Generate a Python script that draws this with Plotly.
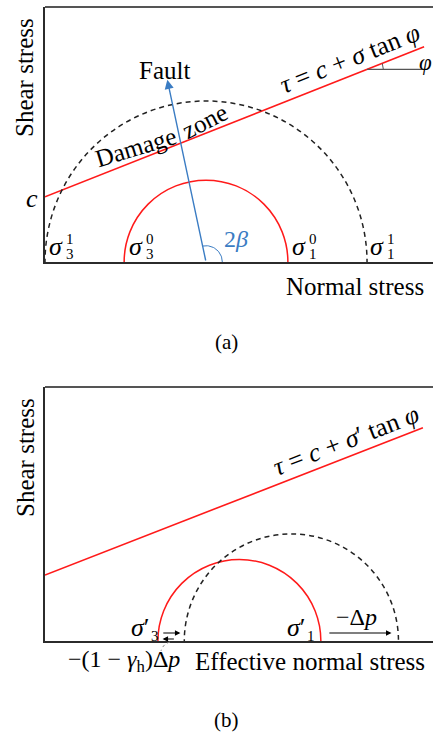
import numpy as np
import plotly.graph_objects as go

# ---------------- data (in stress units) ----------------
# panel (a)
cohesion_a = 1.68
phi_deg_a = 21.6
sigma_end_a = 9.77
circle0_a = [2.04, 6.26]      # sigma3^0, sigma1^0
circle1_a = [0.0, 8.30]       # sigma3^1, sigma1^1
two_beta_deg = 102.0
fault_length = 4.8
# panel (b)
cohesion_b = 1.70
phi_deg_b = 21.3
sigma_end_b = 9.74
circle_b = [2.91, 7.11]       # sigma3', sigma1'
delta_p = 2.0
gamma_h = 0.66

# ---------------- layout helpers ----------------
W, H = 433, 733
X0, PXU = 45, 38.8
Y0A, YTA = 262, 7
Y0B, YTB = 641, 387
SERIF = "Liberation Serif"
RED = "#ff1a1a"
BLUE = "#3a7cc3"
AX = "#2b2b2b"


def px(x):
    return x / W


def py(y):
    return 1 - y / H


fig = go.Figure()
shapes = []
ann = []


def envelope(c, phi, end, xa, ya):
    t = np.tan(np.radians(phi))
    fig.add_trace(go.Scatter(x=[0, end], y=[c, c + end * t], mode="lines",
                             line=dict(color=RED, width=1.6), xaxis=xa, yaxis=ya,
                             hoverinfo="skip", showlegend=False))


def circle(s3, s1, xr, yr, color, dash):
    r = (s1 - s3) / 2
    shapes.append(dict(type="circle", xref=xr, yref=yr, x0=s3, x1=s1, y0=-r, y1=r,
                       line=dict(color=color, width=1.5, dash=dash), layer="above"))


def arc(cx, cy, r, a0, a1, xa, ya, color):
    th = np.radians(np.linspace(a0, a1, 30))
    fig.add_trace(go.Scatter(x=cx + r * np.cos(th), y=cy + r * np.sin(th), mode="lines",
                             line=dict(color=color, width=1), xaxis=xa, yaxis=ya,
                             hoverinfo="skip", showlegend=False))


def text(xp, yp, s, size=25, color="black", angle=0, font=SERIF):
    ann.append(dict(x=px(xp), y=py(yp), xref="paper", yref="paper", text=s,
                    showarrow=False, textangle=angle, xanchor="center", yanchor="middle",
                    font=dict(family=font, size=size, color=color)))


def sigma(xp, yp, sup, sub):
    text(xp, yp, "<i>σ</i>", size=26)
    text(xp + 14, yp - 8, sup, size=15)
    text(xp + 14, yp + 7, sub, size=15)


def arrow(x_tip, y_tip, x_tail, y_tail, xr, yr, color="black", width=1.1, size=1.0):
    ann.append(dict(x=x_tip, y=y_tip, ax=x_tail, ay=y_tail, xref=xr, yref=yr,
                    axref=xr, ayref=yr, text="", showarrow=True, arrowhead=2,
                    arrowsize=size, arrowwidth=width, arrowcolor=color))


# ---------------- panel (a) ----------------
envelope(cohesion_a, phi_deg_a, sigma_end_a, "x", "y")
circle(circle0_a[0], circle0_a[1], "x", "y", RED, "solid")
circle(circle1_a[0], circle1_a[1], "x", "y", "#222222", "5px,4px")
cx_a = (circle0_a[0] + circle0_a[1]) / 2
tb = np.radians(two_beta_deg)
arrow(cx_a + fault_length * np.cos(tb), fault_length * np.sin(tb), cx_a, 0, "x", "y",
      color=BLUE, width=1.4, size=1.3)
arc(cx_a, 0, 0.42, 0, two_beta_deg, "x", "y", BLUE)
# phi marker
tphi = np.tan(np.radians(phi_deg_a))
phi_x0 = 8.30
phi_y0 = cohesion_a + phi_x0 * tphi
fig.add_trace(go.Scatter(x=[phi_x0, sigma_end_a + 0.05], y=[phi_y0, phi_y0], mode="lines",
                         line=dict(color="#555555", width=1.2), xaxis="x", yaxis="y",
                         hoverinfo="skip", showlegend=False))
arc(phi_x0, phi_y0, 0.42, 0, phi_deg_a, "x", "y", "#555555")

# ---------------- panel (b) ----------------
envelope(cohesion_b, phi_deg_b, sigma_end_b, "x2", "y2")
circle(circle_b[0], circle_b[1], "x2", "y2", RED, "solid")
circle(circle_b[0] + (1 - gamma_h) * delta_p, circle_b[1] + delta_p, "x2", "y2",
       "#222222", "5px,4px")
ab = 8 / PXU
arrow(circle_b[1] + delta_p - 0.18, ab, circle_b[1] + 0.18, ab, "x2", "y2")
arrow(circle_b[0] + (1 - gamma_h) * delta_p - 0.1, ab, circle_b[0] + 0.1, ab, "x2", "y2")
arrow(circle_b[0] + 0.12, 0.05, circle_b[0] + 0.45, 0.05, "x2", "y2")
shapes.append(dict(type="path", xref="paper", yref="paper",
                   path=f"M {px(170)} {py(642)} Q {px(163)} {py(644)} {px(161)} {py(651)}",
                   line=dict(color="#888888", width=1, dash="dot")))

# top borders
for xd, yd in [("x domain", "y domain"), ("x2 domain", "y2 domain")]:
    shapes.append(dict(type="line", xref=xd, yref=yd, x0=0, x1=1, y0=1, y1=1,
                       line=dict(color="#555555", width=2)))

# ---------------- texts ----------------
text(25, 78, "Shear stress", angle=-90)
text(25, 458, "Shear stress", angle=-90)
text(355, 286, "Normal stress")
text(164, 70, "Fault")
text(135, 147, "Damage", angle=-17)
text(204, 121, "zone", angle=-27)
text(350, 59, "<i>τ</i> = <i>c</i> + <i>σ</i> tan <i>φ</i>", size=26, angle=-21.6)
text(425, 62, "<i>φ</i>", size=23)
text(32, 199, "<i>c</i>", size=26)
sigma(56, 247, "1", "3")
sigma(136, 247, "0", "3")
sigma(299, 247, "0", "1")
sigma(377, 247, "1", "1")
text(236, 239, "2<i>β</i>", size=24, color=BLUE)
text(226, 342, "(a)", size=21)

text(346, 440, "<i>τ</i> = <i>c</i> + <i>σ</i>′ tan <i>φ</i>", size=26, angle=-21)
text(140, 627, "<i>σ</i>′", size=26)
text(155, 636, "3", size=15)
text(296, 627, "<i>σ</i>′", size=26)
text(311, 636, "1", size=15)
text(356, 617, "−Δ<i>p</i>", size=24)
text(124, 661, "−(1 − <i>γ</i><sub>h</sub>)Δ<i>p</i>", size=24)
text(310, 661, "Effective normal stress")
text(226, 720, "(b)", size=21)

axis_common = dict(showgrid=False, zeroline=False, showticklabels=False, ticks="",
                   showline=True, linecolor=AX, linewidth=2, fixedrange=True)
fig.update_layout(
    width=W, height=H, margin=dict(l=0, r=0, t=0, b=0),
    paper_bgcolor="white", plot_bgcolor="white", showlegend=False,
    xaxis=dict(domain=[px(X0), 1], range=[0, (W - X0) / PXU], anchor="y", **axis_common),
    yaxis=dict(domain=[py(Y0A), py(YTA)], range=[0, (Y0A - YTA) / PXU], anchor="x", **axis_common),
    xaxis2=dict(domain=[px(X0), 1], range=[0, (W - X0) / PXU], anchor="y2", **axis_common),
    yaxis2=dict(domain=[py(Y0B), py(YTB)], range=[0, (Y0B - YTB) / PXU], anchor="x2", **axis_common),
    shapes=shapes, annotations=ann,
)
fig.write_html("out.html", config={"displayModeBar": False},
               post_script="document.body.style.margin='0';document.body.style.overflow='hidden';")
